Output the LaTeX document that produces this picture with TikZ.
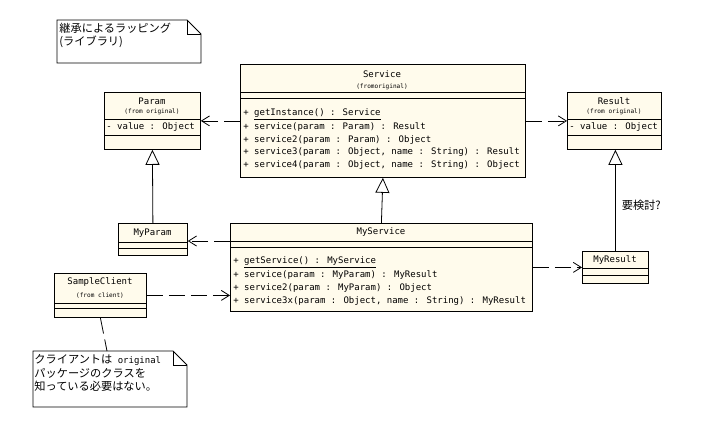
\documentclass[tikz,border=0pt]{standalone}
\usepackage{fontspec}
\setmainfont{DejaVu Sans Mono}
\newfontfamily\jpfont{Noto Sans CJK JP}
\usepackage{tikz}
\usetikzlibrary{arrows.meta}
\definecolor{classfill}{RGB}{255,251,236}

\begin{document}
\begin{tikzpicture}[x=1pt, y=-1pt, line width=0.8pt,
	cls/.style = {draw, fill=classfill, anchor=north west, inner sep=0pt},
	txt/.style = {font=\fontsize{9}{10}\selectfont, inner sep=0pt},
	jtxt/.style = {font=\jpfont\fontsize{11.2}{12}\selectfont, inner sep=0pt},
	sml/.style = {font=\fontsize{6.1}{7}\selectfont, inner sep=0pt},
	op/.style = {txt, anchor=west},
	dep/.style = {dash pattern=on 16pt off 6pt, -{Straight Barb[length=8pt,width=10pt]}},
	gen/.style = {-{Triangle[open,length=15pt,width=14pt]}}]
	\useasboundingbox[fill=white] (0,0) rectangle (719,428);
	% note: wrapping by inheritance
	\draw[fill=white] (57,20) -- (187,20) -- (201,34) -- (201,63) -- (57,63) -- cycle;
	\draw (187,20) -- (187,34) -- (201,34);
	\node[jtxt, anchor=west] (title1) at (59,28) {継承によるラッピング};
	\node[jtxt, anchor=west] (title2) at (59,42) {(ライブラリ)};
	% Service
	\node[cls, minimum width=285, minimum height=113] (service) at (240,64) {};
	\draw (service.west |- 0,92) -- (service.east |- 0,92);
	\draw (service.west |- 0,98) -- (service.east |- 0,98);
	\node[txt] (servicename) at (382,74) {Service};
	\node[sml] (servicefrom) at (382,87) {(fromoriginal)};
	\node[op] (s1) at (243,114) {+ \underline{getInstance() : Service}};
	\node[op] (s2) at (243,127) {+ service(param : Param) : Result};
	\node[op] (s3) at (243,140) {+ service2(param : Param) : Object};
	\node[op] (s4) at (243,152.5) {+ service3(param : Object, name : String) : Result};
	\node[op] (s5) at (243,165) {+ service4(param : Object, name : String) : Object};
	% Param
	\node[cls, minimum width=96, minimum height=57] (param) at (104,92) {};
	\draw (param.west |- 0,119) -- (param.east |- 0,119);
	\draw (param.west |- 0,135) -- (param.east |- 0,135);
	\node[txt] (paramname) at (152,101) {Param};
	\node[sml] (paramfrom) at (152,112) {(from original)};
	\node[op] (p1) at (106,127) {- value : Object};
	% Result
	\node[cls, minimum width=94, minimum height=57] (result) at (567,92) {};
	\draw (result.west |- 0,119) -- (result.east |- 0,119);
	\draw (result.west |- 0,135) -- (result.east |- 0,135);
	\node[txt] (resultname) at (614,101) {Result};
	\node[sml] (resultfrom) at (614,112) {(from original)};
	\node[op] (r1) at (569,127) {- value : Object};
	% MyParam
	\node[cls, minimum width=69, minimum height=32] (myparam) at (118,223) {};
	\draw (myparam.west |- 0,242) -- (myparam.east |- 0,242);
	\draw (myparam.west |- 0,248) -- (myparam.east |- 0,248);
	\node[txt] (myparamname) at (152.5,233) {MyParam};
	% MyService
	\node[cls, minimum width=302, minimum height=88] (myservice) at (230,223) {};
	\draw (myservice.west |- 0,241) -- (myservice.east |- 0,241);
	\draw (myservice.west |- 0,247) -- (myservice.east |- 0,247);
	\node[txt] (myservicename) at (381,232) {MyService};
	\node[op] (m1) at (233,262) {+ \underline{getService() : MyService}};
	\node[op] (m2) at (233,275) {+ service(param : MyParam) : MyResult};
	\node[op] (m3) at (233,288) {+ service2(param : MyParam) : Object};
	\node[op] (m4) at (233,301) {+ service3x(param : Object, name : String) : MyResult};
	% MyResult
	\node[cls, minimum width=66, minimum height=32] (myresult) at (582,251) {};
	\draw (myresult.west |- 0,268) -- (myresult.east |- 0,268);
	\draw (myresult.west |- 0,275) -- (myresult.east |- 0,275);
	\node[txt] (myresultname) at (615,260) {MyResult};
	% SampleClient
	\node[cls, minimum width=92, minimum height=44] (client) at (54,273) {};
	\draw (client.west |- 0,303) -- (client.east |- 0,303);
	\draw (client.west |- 0,308) -- (client.east |- 0,308);
	\node[txt] (clientname) at (100,282) {SampleClient};
	\node[sml] (clientfrom) at (100,296) {(from client)};
	% note: client needs no original package
	\draw[fill=white] (33,351) -- (173,351) -- (187,365) -- (187,407) -- (33,407) -- cycle;
	\draw (173,351) -- (173,365) -- (187,365);
	\coordinate (notetop) at (107,351);
	\node[jtxt, anchor=west] (note1) at (34,360) {クライアントは\fontspec{DejaVu Sans Mono}\fontsize{9}{10}\selectfont{} original};
	\node[jtxt, anchor=west] (note2) at (34,373) {パッケージのクラスを};
	\node[jtxt, anchor=west] (note3) at (34,386) {知っている必要はない。};
	% connectors
	\draw[dep] (service.west) -- (param.east);
	\draw[dep] (service.east) -- (result.west);
	\draw[gen] (myservice.north) -- (service.south);
	\draw[gen] (myparam.north) -- (param.south);
	\draw[gen] (myresult.north) -- (myresult.north |- result.south)
		node[pos=0.45, right=6pt, jtxt] (review) {要検討?};
	\draw[dep] (myservice.west |- 0,241) -- (myparam.east |- 0,241);
	\draw[dep] (myservice.east) -- (myresult.west);
	\draw[dep] (client.east) -- (myservice.west |- client.east);
	\draw[dash pattern=on 16pt off 6pt] (client.south) -- (notetop);
\end{tikzpicture}
\end{document}
